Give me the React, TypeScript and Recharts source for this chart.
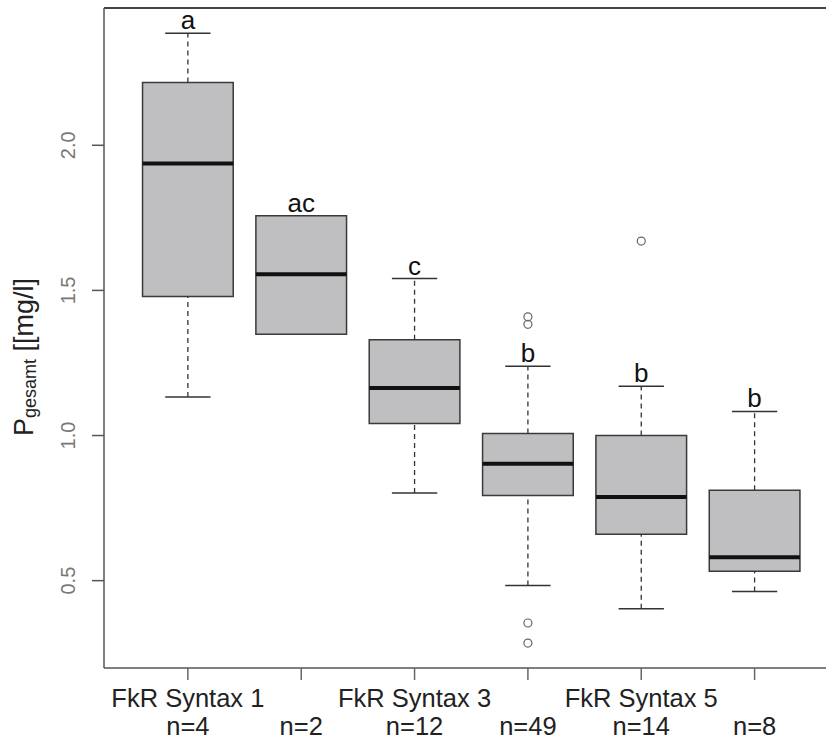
import { ComposedChart, XAxis, YAxis, Scatter, ReferenceArea, ReferenceLine } from "recharts";

// Boxplot statistics per group
const groupIds = [1, 2, 3, 4, 5, 6];
const groupNames = ["FkR Syntax 1", "", "FkR Syntax 3", "", "FkR Syntax 5", ""];
const groupCounts = ["n=4", "n=2", "n=12", "n=49", "n=14", "n=8"];
const whiskerLow = [1.133, null, 0.802, 0.483, 0.403, 0.463];
const q1 = [1.479, 1.349, 1.041, 0.793, 0.66, 0.532];
const median = [1.937, 1.556, 1.164, 0.903, 0.788, 0.581];
const q3 = [2.216, 1.757, 1.33, 1.007, 1.0, 0.811];
const whiskerHigh = [2.386, null, 1.541, 1.239, 1.17, 1.083];
const letters = ["a", "ac", "c", "b", "b", "b"];

const outlierGroup = [4, 4, 4, 4, 5];
const outlierValue = [1.409, 1.383, 0.354, 0.285, 1.67];

const yTicks = [0.5, 1.0, 1.5, 2.0];

const FONT = "'Liberation Sans', Arial, Helvetica, sans-serif";
const HALF_BOX = 0.4;
const HALF_CAP = 0.2;

const outlierData = outlierGroup.map((g, i) => ({ x: g, y: outlierValue[i] }));
const letterData = groupIds.map((g, i) => ({
  x: g,
  y: whiskerHigh[i] ?? q3[i],
  label: letters[i],
}));

const XTick = (props: any) => {
  const { x, y, payload } = props;
  const i = groupIds.indexOf(payload.value);
  return (
    <g>
      <text x={x} y={y + 27} textAnchor="middle" fontSize={25.5} fontFamily={FONT} fill="#222">
        {groupNames[i]}
      </text>
      <text x={x} y={y + 55} textAnchor="middle" fontSize={25.5} fontFamily={FONT} fill="#222">
        {groupCounts[i]}
      </text>
    </g>
  );
};

const YTick = (props: any) => {
  const { x, y, payload } = props;
  return (
    <text
      transform={`translate(${x - 17},${y}) rotate(-90)`}
      textAnchor="middle"
      fontSize={20}
      fontFamily={FONT}
      fill="#777"
    >
      {payload.value.toFixed(1)}
    </text>
  );
};

const YTitle = (props: any) => {
  const { viewBox } = props;
  const cx = viewBox.x + 33;
  const cy = viewBox.y + viewBox.height / 2 + 19;
  return (
    <text
      transform={`translate(${cx},${cy}) rotate(-90)`}
      textAnchor="middle"
      fontFamily={FONT}
      fill="#222"
      fontSize={27}
    >
      P
      <tspan fontSize={18} dy={3}>gesamt</tspan>
      <tspan dy={-3}> [[mg/l]</tspan>
    </text>
  );
};

const Circle = (props: any) => (
  <circle cx={props.cx} cy={props.cy} r={4} fill="none" stroke="#666" strokeWidth={1.2} />
);

const Letter = (props: any) => (
  <text x={props.cx} y={props.cy - 4} textAnchor="middle" fontSize={26} fontFamily={FONT} fill="#111">
    {props.payload.label}
  </text>
);

export default function App() {
  return (
    <div style={{ position: "absolute", left: 0, top: 0, width: 826, height: 743, background: "#fff" }}>
      <ComposedChart width={826} height={743} margin={{ top: 8, right: 0, bottom: 0, left: 0 }}>
        <XAxis
          type="number"
          dataKey="x"
          domain={[0.26, 6.63]}
          allowDataOverflow
          ticks={groupIds}
          height={75}
          tickSize={12}
          tickMargin={0}
          tick={<XTick />}
          tickLine={{ stroke: "#666", strokeWidth: 1.5 }}
          axisLine={{ stroke: "#555", strokeWidth: 1.5 }}
        />
        <YAxis
          type="number"
          dataKey="y"
          domain={[0.199, 2.473]}
          allowDataOverflow
          ticks={yTicks}
          width={104}
          tickSize={12}
          tickMargin={0}
          tick={<YTick />}
          tickLine={{ stroke: "#555", strokeWidth: 1.5 }}
          axisLine={{ stroke: "#555", strokeWidth: 1.5 }}
          label={{ content: <YTitle /> }}
        />
        <ReferenceLine y={2.473} stroke="#444" strokeWidth={2} />

        {/* whiskers */}
        {groupIds.map((g, i) =>
          whiskerHigh[i] == null ? null : (
            <ReferenceLine
              key={`wh${g}`}
              segment={[{ x: g, y: q3[i] }, { x: g, y: whiskerHigh[i] as number }]}
              stroke="#333"
              strokeWidth={1.3}
              strokeDasharray="5 4"
            />
          )
        )}
        {groupIds.map((g, i) =>
          whiskerLow[i] == null ? null : (
            <ReferenceLine
              key={`wl${g}`}
              segment={[{ x: g, y: whiskerLow[i] as number }, { x: g, y: q1[i] }]}
              stroke="#333"
              strokeWidth={1.3}
              strokeDasharray="5 4"
            />
          )
        )}
        {groupIds.map((g, i) =>
          whiskerHigh[i] == null ? null : (
            <ReferenceLine
              key={`ch${g}`}
              segment={[{ x: g - HALF_CAP, y: whiskerHigh[i] as number }, { x: g + HALF_CAP, y: whiskerHigh[i] as number }]}
              stroke="#333"
              strokeWidth={1.5}
            />
          )
        )}
        {groupIds.map((g, i) =>
          whiskerLow[i] == null ? null : (
            <ReferenceLine
              key={`cl${g}`}
              segment={[{ x: g - HALF_CAP, y: whiskerLow[i] as number }, { x: g + HALF_CAP, y: whiskerLow[i] as number }]}
              stroke="#333"
              strokeWidth={1.5}
            />
          )
        )}

        {/* boxes */}
        {groupIds.map((g, i) => (
          <ReferenceArea
            key={`box${g}`}
            x1={g - HALF_BOX}
            x2={g + HALF_BOX}
            y1={q1[i]}
            y2={q3[i]}
            fill="#bfbfc1"
            fillOpacity={1}
            stroke="#3a3a3a"
            strokeWidth={1.5}
          />
        ))}
        {groupIds.map((g, i) => (
          <ReferenceLine
            key={`med${g}`}
            segment={[{ x: g - HALF_BOX, y: median[i] }, { x: g + HALF_BOX, y: median[i] }]}
            stroke="#111"
            strokeWidth={4}
          />
        ))}

        <Scatter data={outlierData} shape={<Circle />} isAnimationActive={false} />
        <Scatter data={letterData} shape={<Letter />} isAnimationActive={false} />
      </ComposedChart>
    </div>
  );
}
